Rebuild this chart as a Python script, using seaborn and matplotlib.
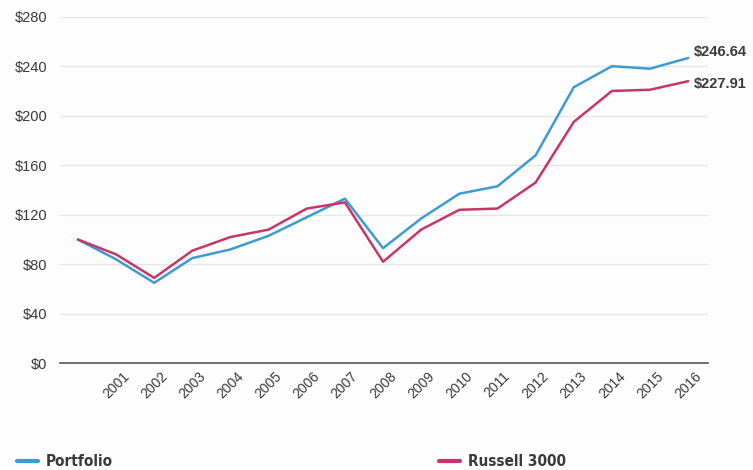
import pandas as pd
import matplotlib.pyplot as plt
import seaborn as sns

# Growth of $100 invested, 2000-2016
years = list(range(2000, 2017))
portfolio = [100, 84, 65, 85, 92, 103, 118, 133, 93, 117, 137, 143, 168, 223, 240, 238, 246.64]
russell = [100, 88, 69, 91, 102, 108, 125, 130, 82, 108, 124, 125, 146, 195, 220, 221, 227.91]
series_names = ["Portfolio", "Russell 3000"]
y_ticks = [0, 40, 80, 120, 160, 200, 240, 280]
x_tick_years = list(range(2001, 2017))

df = pd.DataFrame({
    "year": years * 2,
    "value": portfolio + russell,
    "series": [series_names[0]] * len(years) + [series_names[1]] * len(years),
})

sns.set_style("white")
plt.rcParams["font.family"] = ["Liberation Sans", "DejaVu Sans"]

colors = {"Portfolio": "#3d9bd3", "Russell 3000": "#c7366b"}
text_color = "#3a3a3a"

fig = plt.figure(figsize=(7.53, 4.70), dpi=100)
fig.patch.set_facecolor("#fdfdfd")
ax = fig.add_axes([60 / 753, 1 - 363.3 / 470, 648 / 753, 346.6 / 470])
ax.set_facecolor("#fdfdfd")

sns.lineplot(data=df, x="year", y="value", hue="series", palette=colors,
             linewidth=1.8, ax=ax, legend=False)

ax.set_xlim(1999.53, 2016.52)
ax.set_ylim(0, 280)
ax.set_yticks(y_ticks)
ax.set_yticklabels([f"${v}" for v in y_ticks], fontsize=10.5, color=text_color)
ax.set_xticks(x_tick_years)
ax.set_xticklabels([str(y) for y in x_tick_years], rotation=45, fontsize=10,
                   color=text_color, ha="center")
ax.tick_params(axis="y", length=0, pad=9)
ax.tick_params(axis="x", length=0, pad=4)
ax.set_xlabel("")
ax.set_ylabel("")

for v in y_ticks[1:]:
    ax.axhline(v, color="#e6e6e6", linewidth=1, zorder=0)

for s in ["top", "right", "left"]:
    ax.spines[s].set_visible(False)
ax.spines["bottom"].set_color("#555555")
ax.spines["bottom"].set_linewidth(1.2)

# end value labels
ax.annotate(f"${portfolio[-1]:.2f}", (years[-1], portfolio[-1]), xytext=(4, 4),
            textcoords="offset points", fontsize=10.5, fontweight="bold",
            color=text_color, va="center", ha="left", annotation_clip=False)
ax.annotate(f"${russell[-1]:.2f}", (years[-1], russell[-1]), xytext=(4, -2),
            textcoords="offset points", fontsize=10.5, fontweight="bold",
            color=text_color, va="center", ha="left", annotation_clip=False)

# legend along the bottom, one entry at each spot
legend_font = {"family": "DejaVu Sans", "stretch": "condensed",
               "weight": "bold", "size": 11}
for name, xpos in zip(series_names, [17, 439]):
    h = plt.Line2D([], [], color=colors[name], linewidth=3)
    fig.legend([h], [name], loc="center left",
               bbox_to_anchor=(xpos / 753, 1 - 462 / 470), frameon=False,
               handlelength=1.4, handletextpad=0.5,
               borderpad=0, borderaxespad=0,
               prop=legend_font, labelcolor=text_color)

fig.savefig("out.png", dpi=100, facecolor=fig.get_facecolor())
